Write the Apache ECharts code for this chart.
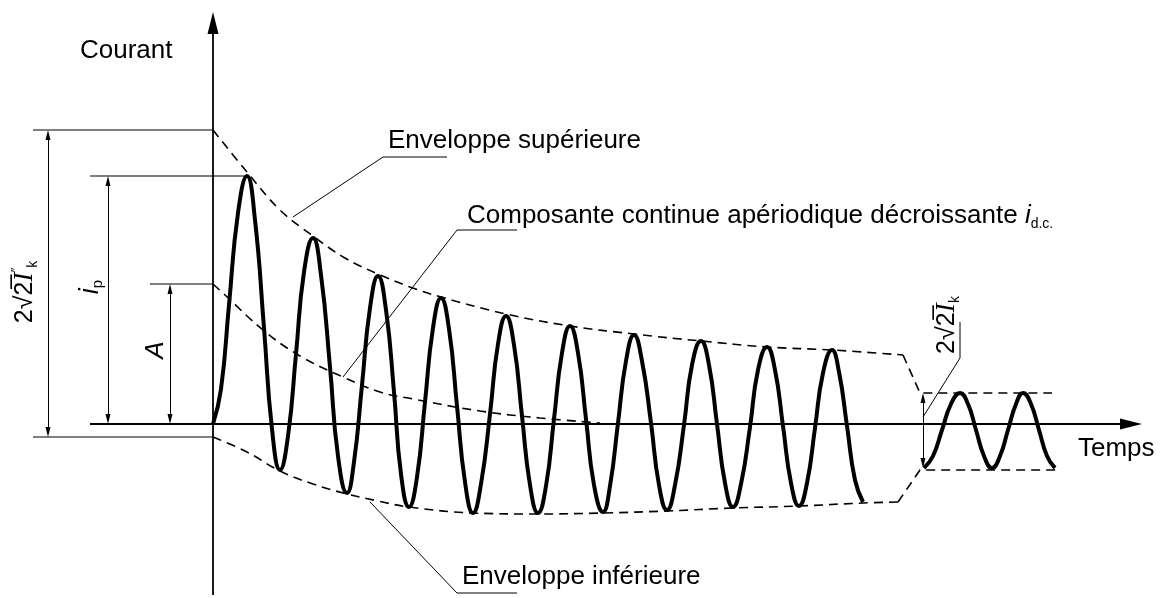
<!DOCTYPE html>
<html>
<head>
<meta charset="utf-8">
<script src="https://cdn.jsdelivr.net/npm/echarts@6/dist/echarts.min.js"></script>
<style>
html, body { margin: 0; padding: 0; background: #fff; }
#main { width: 1160px; height: 598px; }
</style>
</head>
<body>
<div id="main"></div>
<script>
// time t, current i (arbitrary units)
var wave = [[0,0],[8,35],[16,119],[25,211],[34,248],[42,204],[51,96],[59,-5],[67,-46],[75,-12],[83,70],
  [91,152],[100,186],[108,149],[117,57],[125,-32],[134,-69],[141,-38],[149,39],[157,116],[165,148],
  [173,114],[181,32],[188,-50],[196,-83],[204,-53],[212,22],[220,96],[228,126],[236,95],[244,18],
  [252,-58],[260,-89],[268,-60],[277,10],[285,80],[293,108],[301,79],[309,8],[317,-61],[325,-89],
  [333,-62],[341,5],[349,71],[357,98],[365,71],[373,5],[381,-61],[390,-88],[397,-62],[405,1],
  [413,63],[421,89],[429,63],[438,1],[446,-61],[454,-86],[462,-61],[471,-1],[479,59],[488,83],
  [496,59],[504,0],[512,-59],[520,-83],[528,-60],[537,-3],[545,54],[554,77],[562,54],[570,-2],
  [578,-59],[586,-82],[594,-59],[602,-4],[610,51],[619,74],[626,52],[634,-2],[642,-56],[650,-78]];
var steady = [[711,-44],[720,-32],[729,-6],[738,20],[747,31],[755,20],[763,-6],[771,-32],[779,-44],
  [787,-32],[795,-6],[803,20],[810,31],[818,20],[826,-6],[834,-32],[842,-44]];
var upperEnv = [[0,294],[34,252],[67,214],[100,188],[132,166],[165,150],[197,137],[228,127],[293,110],
  [357,98],[421,90],[488,83],[554,77],[619,74],[690,69]];
var upperTail = [[690,69],[707,31],[839,31]];
var lowerEnv = [[0,-13],[34,-28],[67,-47],[100,-60],[134,-70],[165,-77],[196,-83],[260,-89],[325,-90],
  [390,-89],[454,-87],[520,-84],[586,-82],[650,-79],[685,-78]];
var lowerTail = [[685,-78],[707,-46],[845,-46]];
var dcComp = [[0,140],[12,129],[50,94],[87,68],[130,47],[167,32],[200,25],[267,13],[327,6],[387,1]];

// extension lines [t1, t2, i]
var extLines = [[-180,0,294],[-123,34,248],[-63,0,140],[-180,0,-13]];
// dimension arrows [t, iTop, iBottom]
var dimArrows = [[-165,294,-13],[-105,248,0],[-43,140,0],[710,31,-44]];
// leader lines
var leaders = [
  [[80,207],[170,267],[234,267]],
  [[130,47],[244,194],[304,194]],
  [[157,-78],[244,-169],[304,-169]],
  [[710,7],[747,66],[747,102]]
];
// axes: start and arrow tip
var timeAxis = [[-123,0],[929,0]];
var currentAxis = [[0,-171],[0,412]];

var FONT = 'Liberation Sans, Arial, sans-serif';
var myChart = echarts.init(document.getElementById('main'));

function line(pts, width, dashed, smooth, z) {
  return {
    type: 'line', data: pts, symbol: 'none', smooth: smooth || false,
    silent: true, animation: false, clip: false, z: z || 2,
    lineStyle: { color: '#000', width: width, type: dashed ? [9, 6] : 'solid' }
  };
}

var series = [];
series.push(line(wave, 4, false, 0.5, 5));
series.push(line(steady, 4, false, 0.5, 5));
series.push(line(upperEnv, 1.6, true, 0.4));
series.push(line(upperTail, 1.6, true));
series.push(line(lowerEnv, 1.6, true, 0.4));
series.push(line(lowerTail, 1.6, true));
series.push(line(dcComp, 1.6, true, 0.4));
extLines.forEach(function (e) { series.push(line([[e[0], e[2]], [e[1], e[2]]], 1.2)); });
leaders.forEach(function (l) { series.push(line(l, 1)); });

var axisSeries = line([[0, 0], [0, 0]], 0);
var off = 5, axOff = 11;
axisSeries.markLine = {
  silent: true, animation: false, symbol: ['none', 'triangle'],
  label: { show: false },
  lineStyle: { color: '#000', type: 'solid', width: 1.8 },
  data: [
    [{ coord: timeAxis[0], symbol: 'none' },
     { coord: [timeAxis[1][0] - axOff, timeAxis[1][1]], symbol: 'triangle', symbolSize: [11, 22] }],
    [{ coord: currentAxis[0], symbol: 'none' },
     { coord: [currentAxis[1][0], currentAxis[1][1] - axOff], symbol: 'triangle', symbolSize: [11, 22] }]
  ].concat(dimArrows.map(function (d) {
    return [
      { coord: [d[0], d[1] - off], symbol: 'triangle', symbolSize: [5, 10], lineStyle: { width: 1 } },
      { coord: [d[0], d[2] + off], symbol: 'triangle', symbolSize: [5, 10] }
    ];
  }))
};
series.push(axisSeries);

function txt(x, y, text, extra) {
  var s = { text: text, font: '26px ' + FONT, fill: '#000', align: 'left', verticalAlign: 'middle' };
  for (var k in extra) s[k] = extra[k];
  return { type: 'text', x: x, y: y, silent: true, style: s };
}
function rot(x, y, text, rich) {
  return { type: 'text', x: x, y: y, rotation: Math.PI / 2, silent: true,
    style: { text: text, rich: rich, fill: '#000', align: 'center', verticalAlign: 'middle' } };
}
var richK = {
  n: { fontFamily: FONT, fontSize: 25, lineHeight: 30, verticalAlign: 'middle' },
  it: { fontFamily: 'Liberation Serif', fontStyle: 'italic', fontSize: 28, lineHeight: 30, verticalAlign: 'middle' },
  sup: { fontFamily: FONT, fontSize: 13, lineHeight: 30, verticalAlign: 'top' },
  sub: { fontFamily: FONT, fontSize: 14, lineHeight: 30, verticalAlign: 'bottom' }
};

myChart.setOption({
  backgroundColor: '#fff',
  animation: false,
  grid: { left: 0, right: 0, top: 0, bottom: 0 },
  xAxis: { type: 'value', min: -213, max: 947, show: false },
  yAxis: { type: 'value', min: -174, max: 424, show: false },
  series: series,
  graphic: [
    txt(80, 51, 'Courant'),
    txt(388, 141, 'Enveloppe supérieure'),
    txt(467, 216, '{n|Composante continue apériodique décroissante }{i|i}{s|d.c.}', {
      rich: {
        n: { fontFamily: FONT, fontSize: 26, lineHeight: 30, verticalAlign: 'middle' },
        i: { fontFamily: FONT, fontStyle: 'italic', fontSize: 26, lineHeight: 30, verticalAlign: 'middle' },
        s: { fontFamily: FONT, fontSize: 14, lineHeight: 30, verticalAlign: 'bottom' }
      }
    }),
    txt(462, 577, 'Enveloppe inférieure'),
    txt(1078, 449, 'Temps'),
    rot(25, 292, '{n|2√2\u0305}{it|I}{sup|″}{sub|k}', richK),
    rot(947, 325, '{n|2√2\u0305}{it|I}{sub|k}', richK),
    rot(90, 287, '{it|i}{sub|p}', {
      it: { fontFamily: FONT, fontStyle: 'italic', fontSize: 27, lineHeight: 30, verticalAlign: 'middle' },
      sub: { fontFamily: FONT, fontSize: 15, lineHeight: 30, verticalAlign: 'bottom' }
    }),
    rot(156, 350, '{it|A}', {
      it: { fontFamily: FONT, fontStyle: 'italic', fontSize: 26, lineHeight: 30, verticalAlign: 'middle' }
    })
  ]
});
window.onresize = myChart.resize;
</script>
</body>
</html>
